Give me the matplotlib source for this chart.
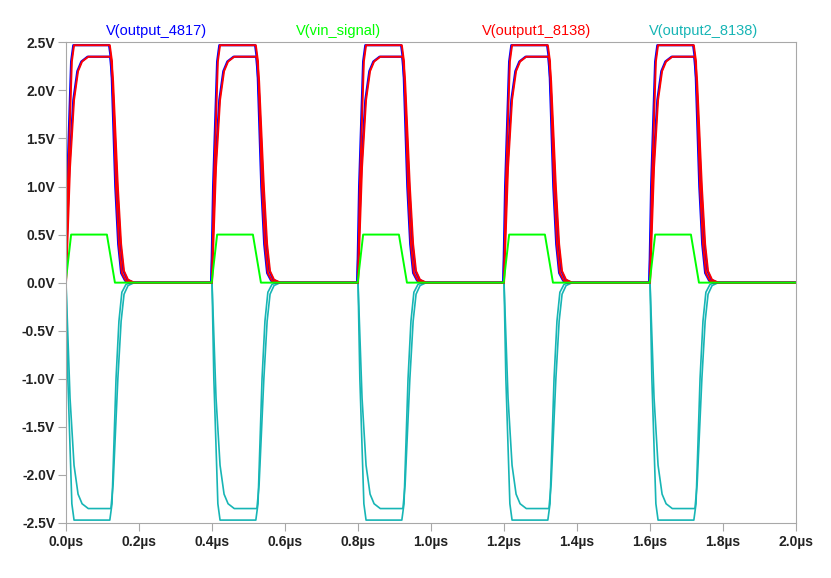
import numpy as np
import matplotlib
matplotlib.use("Agg")
import matplotlib.pyplot as plt
from matplotlib.ticker import FuncFormatter

# one pulse, times in microseconds
period = 0.4
starts = [0.0, 0.4, 0.8, 1.2, 1.6]
t_end = 2.0

vin_t = [0.0, 0.015, 0.113, 0.135]
vin_v = [0.0, 0.5, 0.5, 0.0]

# fast step of the outputs
fast_t = [0.001, 0.006, 0.017, 0.023, 0.121, 0.127, 0.138, 0.146, 0.154, 0.165, 0.176]
fast_v = [0.0, 1.0, 2.3, 2.47, 2.47, 2.3, 1.0, 0.4, 0.1, 0.02, 0.0]
# slow step of the outputs
slow_t = [0.001, 0.012, 0.023, 0.034, 0.045, 0.062, 0.124, 0.130, 0.143, 0.152, 0.160, 0.171, 0.188]
slow_v = [0.0, 1.2, 1.9, 2.2, 2.3, 2.35, 2.35, 2.1, 1.0, 0.4, 0.12, 0.03, 0.0]

blue_shift = -0.002
cyan_fast_v = [-v for v in fast_v]
cyan_slow_v = [-v for v in slow_v]

labels = ["V(output_4817)", "V(vin_signal)", "V(output1_8138)", "V(output2_8138)"]
colors = ["#0000ff", "#00ff00", "#ff0000", "#17b5b5"]
label_x = [157, 338, 537, 704]


def train(tp, vp, shift=0.0):
    tt, vv = [], []
    for s in starts:
        tt += [s + shift + x for x in tp]
        vv += list(vp)
    tt.append(t_end)
    vv.append(0.0)
    return np.array(tt), np.array(vv)


fig = plt.figure(figsize=(8.31, 5.78), dpi=100)
ax = fig.add_axes([0.079, 0.0952, 0.8785, 0.8316])

# cyan
for vp, tp in [(cyan_fast_v, fast_t), (cyan_slow_v, slow_t)]:
    t, v = train(tp, vp)
    ax.plot(t, v, color=colors[3], lw=1.2)
# blue
for vp, tp in [(fast_v, fast_t), (slow_v, slow_t)]:
    t, v = train(tp, vp, blue_shift)
    ax.plot(t, v, color=colors[0], lw=1.6)
# red
for vp, tp in [(fast_v, fast_t), (slow_v, slow_t)]:
    t, v = train(tp, vp)
    ax.plot(t, v, color=colors[2], lw=1.4)
# green
t, v = train(vin_t, vin_v)
ax.plot(t, v, color=colors[1], lw=1.4)

ax.set_xlim(0, 2.0)
ax.set_ylim(-2.5, 2.5)
ax.set_xticks(np.arange(0, 2.01, 0.2))
ax.set_yticks(np.arange(-2.5, 2.51, 0.5))
ax.xaxis.set_major_formatter(FuncFormatter(lambda x, p: f"{x:.1f}\u00b5s"))
ax.yaxis.set_major_formatter(FuncFormatter(lambda y, p: f"{y:.1f}V"))
for sp in ax.spines.values():
    sp.set_color("#a8a8a8")
ax.tick_params(direction="out", length=6, color="#a8a8a8", labelcolor="#222222")
ax.tick_params(axis="y", pad=1.5)
ax.tick_params(axis="x", pad=2.5)
for lab in ax.get_xticklabels() + ax.get_yticklabels():
    lab.set_fontfamily("Liberation Sans")
    lab.set_fontweight("bold")
    lab.set_fontsize(10)

for lbl, c, xp in zip(labels, colors, label_x):
    fig.text(xp / 831, 1 - 31 / 578, lbl, color=c, ha="center", va="center",
             fontsize=10.5, family="Liberation Sans")

fig.savefig("out.png", dpi=100)
